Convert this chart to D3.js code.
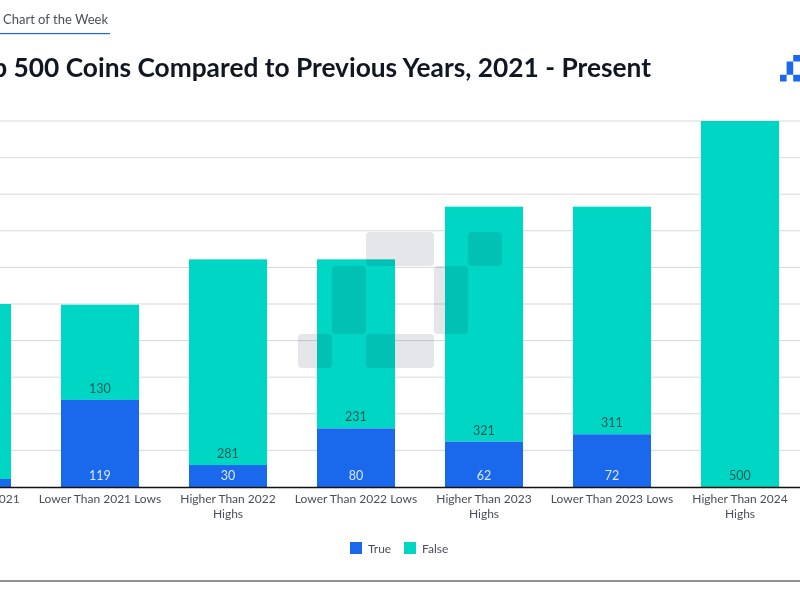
<!DOCTYPE html>
<html>
<head>
<meta charset="utf-8">
<script src="https://cdn.jsdelivr.net/npm/d3@7"></script>
<style>
  html, body { margin: 0; padding: 0; background: #fff; overflow: hidden; }
  text { font-family: Lato, sans-serif; }
</style>
</head>
<body>
<script>
// Top 500 coins stacked bars

const categories = ["Higher Than 2021 Highs", "Lower Than 2021 Lows", "Higher Than 2022 Highs",
                    "Lower Than 2022 Lows", "Higher Than 2023 Highs", "Lower Than 2023 Lows",
                    "Higher Than 2024 Highs"];
const trueValues = [11, 119, 30, 80, 62, 72, 0];
const falseValues = [239, 130, 281, 231, 321, 311, 500];
const legendLabels = ["True", "False"];
const blue = "#1a69ec";
const teal = "#00d6c4";

const width = 800;
const height = 600;

const svg = d3.select("body").append("svg")
  .attr("width", width)
  .attr("height", height);

const x = d3.scaleBand()
  .domain(categories)
  .range([-92, 804])
  .paddingInner(0.39)
  .paddingOuter(0.195);

const y = d3.scaleLinear()
  .domain([0, 500])
  .range([487, 121]);

// header
svg.append("text")
  .attr("x", 3).attr("y", 24)
  .attr("font-size", 13)
  .attr("fill", "#4a4f57")
  .text("Chart of the Week");

svg.append("rect")
  .attr("x", 0).attr("y", 33)
  .attr("width", 110).attr("height", 1.2)
  .attr("fill", "#1a69ec");

svg.append("text")
  .attr("x", 651).attr("y", 77)
  .attr("text-anchor", "end")
  .attr("font-size", 26.3)
  .attr("font-weight", 700)
  .attr("fill", "#111722")
  .text("Top 500 Coins Compared to Previous Years, 2021 - Present");

// gridlines
svg.append("g").selectAll("line")
  .data(y.ticks(10).filter(d => d > 0))
  .join("line")
  .attr("x1", 0).attr("x2", width)
  .attr("y1", d => y(d)).attr("y2", d => y(d))
  .attr("stroke", "#d9d9d9")
  .attr("stroke-width", 1);

// bars
const barGroups = svg.append("g").selectAll("g")
  .data(categories)
  .join("g")
  .attr("transform", d => "translate(" + x(d) + ",0)");

barGroups.append("rect")
  .attr("y", (d, i) => y(trueValues[i] + falseValues[i]))
  .attr("width", x.bandwidth())
  .attr("height", (d, i) => y(trueValues[i]) - y(trueValues[i] + falseValues[i]))
  .attr("fill", teal);

barGroups.append("rect")
  .attr("y", (d, i) => y(trueValues[i]))
  .attr("width", x.bandwidth())
  .attr("height", (d, i) => y(0) - y(trueValues[i]))
  .attr("fill", blue);

// logo shape, same cells for the watermark and the corner mark
const logoCells = [[2, 0, 2, 1], [5, 0, 1, 1], [1, 1, 1, 2], [4, 1, 1, 2], [0, 3, 1, 1], [2, 3, 2, 1]];

function drawLogo(x0, y0, cell, radius, fill, blend) {
  svg.append("g")
    .style("mix-blend-mode", blend)
    .selectAll("rect")
    .data(logoCells)
    .join("rect")
    .attr("x", d => x0 + d[0] * cell)
    .attr("y", d => y0 + d[1] * cell)
    .attr("width", d => d[2] * cell)
    .attr("height", d => d[3] * cell)
    .attr("rx", radius)
    .attr("fill", fill);
}

drawLogo(298, 232, 34, 4, "#e5e6e9", "multiply");
drawLogo(780, 55, 6.6, 0.5, blue, "normal");

// value labels, only for bars whose centre is on the page
const labelled = barGroups.filter(d => x(d) + x.bandwidth() / 2 > 0);

labelled.append("text")
  .filter(d => trueValues[categories.indexOf(d)] > 0)
  .attr("x", x.bandwidth() / 2)
  .attr("y", 480)
  .attr("text-anchor", "middle")
  .attr("font-size", 12.5)
  .attr("fill", "#dbe8fd")
  .text(d => trueValues[categories.indexOf(d)]);

labelled.append("text")
  .attr("x", x.bandwidth() / 2)
  .attr("y", d => y(trueValues[categories.indexOf(d)]) - 7)
  .attr("text-anchor", "middle")
  .attr("font-size", 12.5)
  .attr("fill", "#0d5a57")
  .text(d => falseValues[categories.indexOf(d)]);

// x axis, labels broken before "Highs"
const xAxis = svg.append("g")
  .attr("transform", "translate(0," + y(0) + ")")
  .call(d3.axisBottom(x).tickSize(0));

xAxis.select(".domain")
  .attr("stroke", "#111")
  .attr("stroke-width", 1.5);

xAxis.selectAll("text")
  .attr("font-family", "Lato, sans-serif")
  .attr("font-size", 12)
  .attr("fill", "#4a4f57")
  .attr("y", 0)
  .attr("dy", null)
  .each(function(d) {
    const lines = d.split(/ (?=Highs)/);
    const label = d3.select(this).text(null);
    lines.forEach((line, i) => {
      label.append("tspan")
        .attr("x", 0)
        .attr("y", 16 + i * 15)
        .text(line);
    });
  });

// legend
const legendX = d3.scaleOrdinal().domain(legendLabels).range([350, 404]);
const legendColor = d3.scaleOrdinal().domain(legendLabels).range([blue, teal]);

const legend = svg.append("g").selectAll("g")
  .data(legendLabels)
  .join("g")
  .attr("transform", d => "translate(" + legendX(d) + ",542)");

legend.append("rect")
  .attr("width", 12).attr("height", 12)
  .attr("fill", d => legendColor(d));

legend.append("text")
  .attr("x", 18).attr("y", 10.5)
  .attr("font-size", 12)
  .attr("fill", "#4a4f57")
  .text(d => d);

// bottom rule
svg.append("line")
  .attr("x1", 0).attr("x2", width)
  .attr("y1", 581).attr("y2", 581)
  .attr("stroke", "#6b6b6b")
  .attr("stroke-width", 1.5);
</script>
</body>
</html>
